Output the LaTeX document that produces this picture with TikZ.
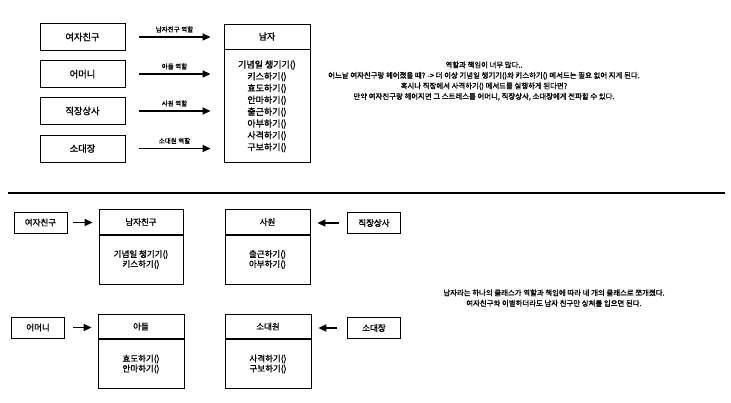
\documentclass[tikz,border=0pt]{standalone}
\usepackage{fontspec}
\setmainfont{Noto Sans CJK KR}[FakeBold=1.3]
\usetikzlibrary{arrows.meta,positioning}

\begin{document}
\begin{tikzpicture}[x=1pt,y=-1pt,
  box/.style={draw,line width=0.8pt,minimum width=85pt,minimum height=27pt,inner sep=0pt,font=\fontsize{9.3}{10}\selectfont},
  smallbox/.style={draw,line width=0.8pt,minimum width=53pt,minimum height=21pt,inner sep=0pt,font=\fontsize{8.5}{10}\selectfont},
  head/.style={draw,line width=0.8pt,minimum width=85pt,minimum height=24.5pt,inner sep=0pt,font=\fontsize{8.5}{10}\selectfont},
  body/.style={draw,line width=0.8pt,minimum width=85pt,minimum height=49pt,inner sep=0pt,align=center,font=\fontsize{8.5}{10}\selectfont},
  arr/.style={line width=1.3pt,-{Triangle[length=8pt,width=7pt]}},
  lbl/.style={font=\fontsize{6.5}{7}\selectfont,inner sep=0pt,above=4pt},
  note/.style={align=center,font=\fontsize{7.4}{10.5}\selectfont}
]
  \fill[white] (0,0) rectangle (731,403);
  \useasboundingbox (0,0) rectangle (731,403);

  % One class with every role
  \node[box] (gf) at (82.5,37) {여자친구};
  \node[box] (mom) at (82.5,74) {어머니};
  \node[box] (boss) at (82.5,111) {직장상사};
  \node[box] (cpt) at (82.5,148.5) {소대장};

  \node[head,minimum width=86pt,minimum height=25pt,font=\fontsize{9}{10}\selectfont] (man) at (267,36.5) {남자};
  \node[body,minimum width=86pt,minimum height=113pt,font=\fontsize{9}{11.8}\selectfont,below=0pt of man] (manm)
    {기념일 챙기기()\\키스하기()\\효도하기()\\안마하기()\\출근하기()\\아부하기()\\사격하기()\\구보하기()};

  \draw[arr,shorten <=14pt,shorten >=13pt] (gf.east) -- (gf.east -| man.west) node[lbl,midway] {남자친구 역할};
  \draw[arr,shorten <=14pt,shorten >=13pt] (mom.east) -- (mom.east -| man.west) node[lbl,midway] {아들 역할};
  \draw[arr,shorten <=14pt,shorten >=13pt] (boss.east) -- (boss.east -| man.west) node[lbl,midway] {사원 역할};
  \draw[arr,shorten <=14pt,shorten >=13pt] (cpt.east) -- (cpt.east -| man.west) node[lbl,midway] {소대원 역할};

  \node[note] (note1) at (484,81) {역할과 책임이 너무 많다..\\
    어느날 여자친구랑 헤어졌을 때? -> 더 이상 기념일 챙기기()와 키스하기() 메서드는 필요 없어 지게 된다.\\
    혹시나 직장에서 사격하기() 메서드를 실행하게 된다면?\\
    만약 여자친구랑 헤어지면 그 스트레스를 어머니, 직장상사, 소대장에게 전파할 수 있다.};

  % Separator
  \draw[line width=1.2pt] (8,193) -- (725,193);

  % Split into four classes
  \node[smallbox] (gf2) at (40.5,222.5) {여자친구};
  \node[head,minimum width=84pt] (bf) at (141,222) {남자친구};
  \node[body,minimum width=84pt,below=0pt of bf] (bfm) {기념일 챙기기()\\키스하기()};

  \node[head] (emp) at (267.5,222) {사원};
  \node[body,below=0pt of emp] (empm) {출근하기()\\아부하기()};
  \node[smallbox] (boss2) at (374,223) {직장상사};

  \node[smallbox] (mom2) at (38,327.5) {어머니};
  \node[head,minimum width=86pt] (son) at (141,326.5) {아들};
  \node[body,minimum width=86pt,below=0pt of son] (sonm) {효도하기()\\안마하기()};

  \node[head,minimum width=86pt] (pvt) at (268,326.5) {소대원};
  \node[body,minimum width=86pt,below=0pt of pvt] (pvtm) {사격하기()\\구보하기()};
  \node[smallbox] (cpt2) at (374,328) {소대장};

  \draw[arr,shorten <=6pt,shorten >=6pt] (gf2.east) -- (gf2.east -| bf.west);
  \draw[arr,shorten <=8pt,shorten >=7pt] (boss2.west) -- (boss2.west -| emp.east);
  \draw[arr,shorten <=8pt,shorten >=6pt] (mom2.east) -- (mom2.east -| son.west);
  \draw[arr,shorten <=10pt,shorten >=7pt] (cpt2.west) -- (cpt2.west -| pvt.east);

  \node[note] (note2) at (554,298) {남자라는 하나의 클래스가 역할과 책임에 따라 네 개의 클래스로 쪼개졌다.\\
    여자친구와 이별하더라도 남자 친구만 상처를 입으면 된다.};
\end{tikzpicture}
\end{document}
